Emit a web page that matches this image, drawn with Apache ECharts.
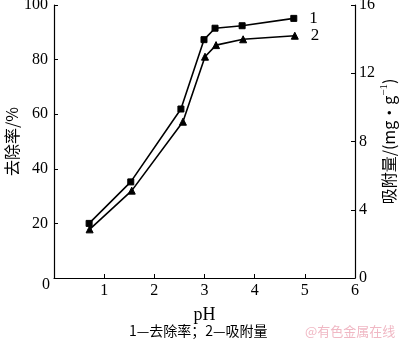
<!DOCTYPE html>
<html>
<head>
<meta charset="utf-8">
<script src="https://cdn.jsdelivr.net/npm/echarts@6/dist/echarts.min.js"></script>
<style>
  html, body { margin: 0; padding: 0; background: #fff; }
  #chart { width: 400px; height: 343px; }
</style>
</head>
<body>
<div id="chart"></div>
<script>
// pH values and measured results
const phRemoval = [0.70, 1.53, 2.53, 2.99, 3.21, 3.75, 4.78];
const removalRate = [20.0, 35.2, 61.9, 87.3, 91.5, 92.4, 95.1];        // %
const phAdsorb = [0.71, 1.55, 2.57, 3.01, 3.23, 3.77, 4.80];
const adsorption = [2.85, 5.12, 9.16, 12.97, 13.65, 13.99, 14.20];     // mg/g
const xTicks = [0, 1, 2, 3, 4, 5, 6];
const leftTicks = [0, 20, 40, 60, 80, 100];
const rightTicks = [0, 4, 8, 12, 16];
const seriesTags = ['1', '2'];

const serif = '"Liberation Serif", "Times New Roman", serif';
const cjk = '"Noto Sans CJK SC", sans-serif';

function pairs(xs, ys, tag) {
  return xs.map((x, i) => {
    const item = { value: [x, ys[i]] };
    if (i === xs.length - 1) {
      item.label = {
        show: true, formatter: tag, position: 'right', distance: 12,
        fontFamily: serif, fontSize: 17, color: '#000'
      };
    }
    return item;
  });
}

const axisLine = { lineStyle: { color: '#000', width: 1.2 } };
const chart = echarts.init(document.getElementById('chart'), null, { renderer: 'canvas' });
chart.setOption({
  animation: false,
  backgroundColor: '#fff',
  grid: { left: 54, right: 45, top: 5, bottom: 65, containLabel: false, outerBoundsMode: 'none' },
  xAxis: {
    type: 'value', min: xTicks[0], max: xTicks[xTicks.length - 1], interval: 1,
    name: 'pH', nameLocation: 'middle', nameGap: 28, nameMoveOverlap: false,
    nameTextStyle: { fontFamily: serif, fontSize: 18, color: '#000' },
    axisLine: axisLine,
    axisTick: { show: true, inside: true, length: 4, lineStyle: { color: '#000' } },
    axisLabel: { fontFamily: serif, fontSize: 16, color: '#000', margin: 5,
      formatter: v => (v === 0 ? '' : String(v)) },
    splitLine: { show: false }
  },
  yAxis: [
    {
      type: 'value', min: leftTicks[0], max: leftTicks[leftTicks.length - 1], interval: 20,
      position: 'left',
      name: '去除率/%', nameLocation: 'middle', nameGap: 34, nameRotate: 90, nameMoveOverlap: false,
      nameTextStyle: { fontFamily: cjk, fontSize: 16, color: '#000' },
      axisLine: axisLine,
      axisTick: { show: true, inside: true, length: 4, lineStyle: { color: '#000' } },
      axisLabel: { fontFamily: serif, fontSize: 16, color: '#000', margin: 6,
        formatter: v => (v === 0 ? '' : String(v)) },
      splitLine: { show: false }
    },
    {
      type: 'value', min: rightTicks[0], max: rightTicks[rightTicks.length - 1], interval: 4,
      position: 'right',
      name: '{n|吸附量/(mg·g}{s|−1}{n|)}', nameLocation: 'middle', nameGap: 24, nameRotate: 90,
      nameMoveOverlap: false,
      nameTextStyle: {
        color: '#000',
        rich: {
          n: { fontFamily: cjk, fontSize: 16, color: '#000' },
          s: { fontFamily: serif, fontSize: 11, color: '#000', verticalAlign: 'top', padding: [0, 0, 8, 0] }
        }
      },
      axisLine: axisLine,
      axisTick: { show: true, inside: true, length: 4, lineStyle: { color: '#000' } },
      axisLabel: { fontFamily: serif, fontSize: 16, color: '#000', margin: 4 },
      splitLine: { show: false }
    }
  ],
  graphic: [
    { type: 'text', left: 42, top: 277,
      style: { text: '0', font: '16px ' + serif, fill: '#000' } },
    { type: 'text', left: 129, top: 324,
      style: { text: '1—去除率；2—吸附量', font: '14px ' + cjk, fill: '#000' } },
    { type: 'text', left: 305, top: 325,
      style: { text: '@有色金属在线', font: '13px ' + cjk, fill: '#f0b8c4' } }
  ],
  series: [
    {
      type: 'line', yAxisIndex: 0, data: pairs(phRemoval, removalRate, seriesTags[0]),
      symbol: 'rect', symbolSize: 6, showAllSymbol: true,
      lineStyle: { color: '#000', width: 1.6 },
      itemStyle: { color: '#000', borderColor: '#000' }
    },
    {
      type: 'line', yAxisIndex: 1, data: pairs(phAdsorb, adsorption, seriesTags[1]),
      symbol: 'triangle', symbolSize: 7, showAllSymbol: true,
      lineStyle: { color: '#000', width: 1.6 },
      itemStyle: { color: '#000', borderColor: '#000' }
    }
  ]
});
</script>
</body>
</html>
